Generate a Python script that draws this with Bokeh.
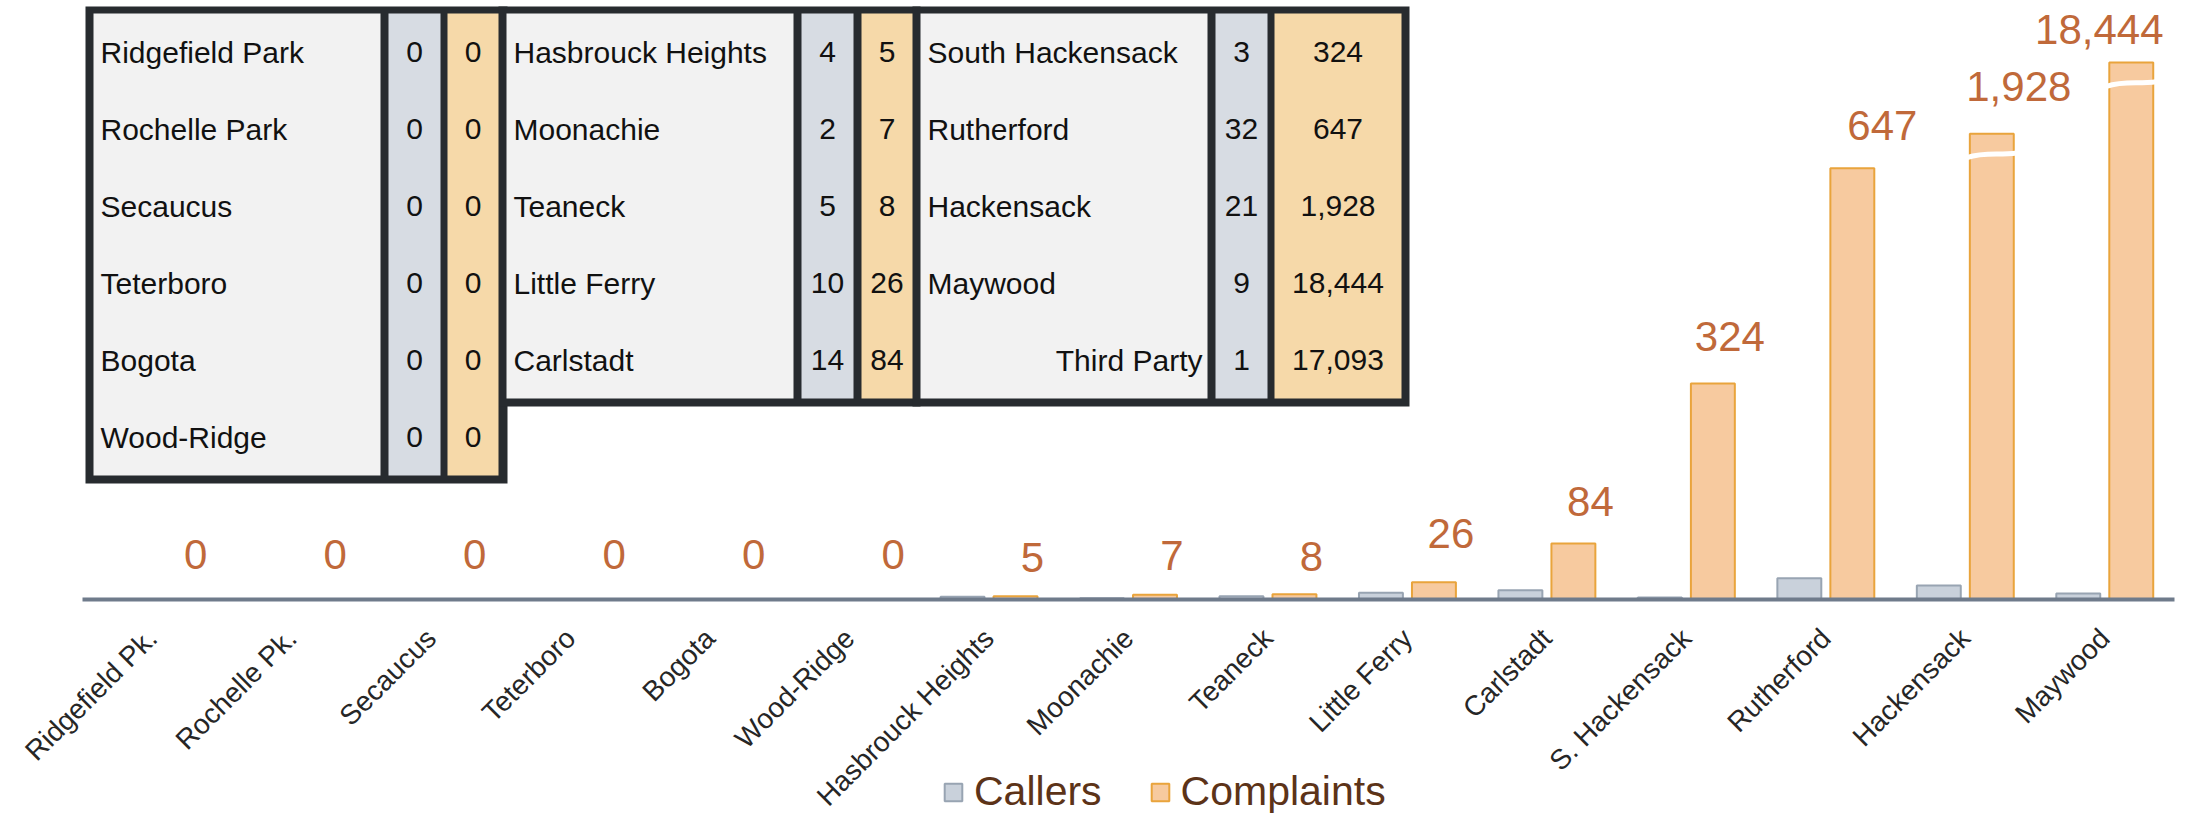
import math
from bokeh.plotting import figure
from bokeh.models import (ColumnDataSource, Range1d, Legend, LegendItem, FixedTicker)
from bokeh.transform import dodge
from bokeh.core.properties import value
from bokeh.embed import file_html
from bokeh.resources import INLINE

# ---------------- data ----------------
categories = ["Ridgefield Pk.", "Rochelle Pk.", "Secaucus", "Teterboro", "Bogota", "Wood-Ridge",
              "Hasbrouck Heights", "Moonachie", "Teaneck", "Little Ferry", "Carlstadt",
              "S. Hackensack", "Rutherford", "Hackensack", "Maywood"]
callers = [0, 0, 0, 0, 0, 0, 4, 2, 5, 10, 14, 3, 32, 21, 9]
complaints = [0, 0, 0, 0, 0, 0, 5, 7, 8, 26, 84, 324, 647, 1928, 18444]

table_names = ["Ridgefield Park", "Rochelle Park", "Secaucus", "Teterboro", "Bogota", "Wood-Ridge",
               "Hasbrouck Heights", "Moonachie", "Teaneck", "Little Ferry", "Carlstadt",
               "South Hackensack", "Rutherford", "Hackensack", "Maywood", "Third Party"]
table_callers = [0, 0, 0, 0, 0, 0, 4, 2, 5, 10, 14, 3, 32, 21, 9, 1]
table_complaints = [0, 0, 0, 0, 0, 0, 5, 7, 8, 26, 84, 324, 647, 1928, 18444, 17093]
table_sections = [6, 5, 5]

# ---------------- styles ----------------
FONT = "Liberation Sans"
ORANGE_TXT = "#C0693A"
CALLER_FILL, CALLER_LINE = "#C9D1DB", "#98A4B2"
COMPL_FILL, COMPL_LINE = "#F7CA9F", "#E9A43C"
AXIS_COLOR = "#6F7B8B"
BORDER = "#272B2F"
NAME_BG, CALLER_BG, COMPL_BG = "#F2F2F2", "#D7DCE3", "#F6D9A9"

# broken value axis: values above BREAK_AT are compressed (bars get a break mark)
BREAK_AT = 647
COMPRESS = 109


def shown(v):
    return v if v <= BREAK_AT else BREAK_AT + COMPRESS * math.log10(v / BREAK_AT)


W, H = 2188, 818
AX_L, AX_R = 82, 2174          # page x where the category band starts / ends
ZERO_PX = 599                  # page y of the value axis
UNITS_PER_PX = 1.5
n_cat = len(categories)
PX_PER_CAT = (AX_R - AX_L) / n_cat

p = figure(width=W, height=H, output_backend="svg", toolbar_location=None,
           x_range=Range1d(-AX_L / PX_PER_CAT, (W - AX_L) / PX_PER_CAT),
           y_range=Range1d((ZERO_PX - H) * UNITS_PER_PX, ZERO_PX * UNITS_PER_PX),
           y_axis_location=None,
           min_border_left=0, min_border_right=0, min_border_top=0, min_border_bottom=0,
           outline_line_color=None, background_fill_color="white", border_fill_color="white")
p.xgrid.visible = False
p.ygrid.visible = False


def tx(px):   # page pixel -> x coordinate (table layout)
    return (px - AX_L) / PX_PER_CAT


def ty(py):   # page pixel -> value coordinate (table layout)
    return (ZERO_PX - py) * UNITS_PER_PX


centers = [i + 0.5 for i in range(n_cat)]
label_dx = [17] * 12 + [30, 27, -32]
label_dy = [-45] * 6 + [-39, -39, -38, -49, -42, -47, -43, -47, -33]

src = ColumnDataSource(dict(
    x=centers,
    cat=categories,
    callers=callers,
    complaints=[shown(v) for v in complaints],
    label=[f"{v:,}" for v in complaints],
    dx=label_dx,
    dy=label_dy,
))

r_callers = p.vbar(x=dodge("x", -0.19), top="callers", width=0.315, source=src,
                   fill_color=CALLER_FILL, line_color=CALLER_LINE, line_width=2)
r_compl = p.vbar(x=dodge("x", 0.19), top="complaints", width=0.315, source=src,
                 fill_color=COMPL_FILL, line_color=COMPL_LINE, line_width=2)

# break marks on compressed bars
bx, byb = [], []
for xc, v in zip(centers, complaints):
    if v > BREAK_AT:
        bx.append(xc)
        byb.append(shown(v) - 32)
brk = ColumnDataSource(dict(x=bx, yl=[y - 4 for y in byb], yr=[y + 3 for y in byb],
                            c0=[y + 5 for y in byb], c1=[y - 1 for y in byb]))
p.bezier(x0=dodge("x", 0.19 - 0.178), y0="yl", x1=dodge("x", 0.19 + 0.178), y1="yr",
         cx0=dodge("x", 0.19 - 0.05), cy0="c0", cx1=dodge("x", 0.19 + 0.05), cy1="c1",
         source=brk, line_color="white", line_width=5)

p.text(x=dodge("x", 0.19), y="complaints", text="label", source=src,
       x_offset="dx", y_offset="dy", text_align="center", text_baseline="alphabetic",
       text_font=value(FONT), text_font_size="42px", text_color=ORANGE_TXT)

# value axis baseline spanning the categories
p.segment(x0=[0], y0=[0], x1=[n_cat], y1=[0], line_color=AXIS_COLOR, line_width=4)

# category axis, fixed at value 0
ax = p.xaxis[0]
ax.fixed_location = 0
ax.ticker = FixedTicker(ticks=centers)
ax.major_label_overrides = {c: name for c, name in zip(centers, categories)}
ax.axis_line_color = None
ax.major_tick_line_color = None
ax.minor_tick_line_color = None
ax.major_tick_out = 0
ax.major_tick_in = 0
ax.major_label_orientation = math.pi / 4
ax.major_label_standoff = 34
ax.major_label_text_font = FONT
ax.major_label_text_font_size = "28px"
ax.major_label_text_color = "#262626"

# ---------------- table ----------------
TOP = 6
ROW0 = 13
ROW_H = 77
sec_geom = [
    dict(outer=(85, 507), name=(93, 380), cal=(388, 440), com=(447, 498)),
    dict(outer=(498, 920), name=(506, 793), cal=(801, 853), com=(861, 912)),
    dict(outer=(912, 1409), name=(920, 1207), cal=(1215, 1267), com=(1274, 1401)),
]
dark = dict(l=[], r=[], t=[], b=[])
cells = dict(l=[], r=[], t=[], b=[], c=[])
txt = dict(x=[], y=[], t=[])
names_l, names_r = [], []
idx = 0
for s, n in enumerate(table_sections):
    g = sec_geom[s]
    bottom = ROW0 + n * ROW_H
    dark["l"].append(tx(g["outer"][0])); dark["r"].append(tx(g["outer"][1]))
    dark["t"].append(ty(TOP)); dark["b"].append(ty(bottom + 8))
    for key, col in (("name", NAME_BG), ("cal", CALLER_BG), ("com", COMPL_BG)):
        cells["l"].append(tx(g[key][0])); cells["r"].append(tx(g[key][1]))
        cells["t"].append(ty(ROW0)); cells["b"].append(ty(bottom)); cells["c"].append(col)
    for i in range(n):
        yc = ty(ROW0 + (i + 0.5) * ROW_H)
        nm = table_names[idx]
        if nm == "Third Party":
            names_r.append((tx(g["name"][1] - 5), yc, nm))
        else:
            names_l.append((tx(g["name"][0] + 7), yc, nm))
        txt["x"].append(tx((g["cal"][0] + g["cal"][1]) / 2)); txt["y"].append(yc)
        txt["t"].append(f"{table_callers[idx]:,}")
        txt["x"].append(tx((g["com"][0] + g["com"][1]) / 2)); txt["y"].append(yc)
        txt["t"].append(f"{table_complaints[idx]:,}")
        idx += 1

p.quad(left=dark["l"], right=dark["r"], top=dark["t"], bottom=dark["b"],
       fill_color=BORDER, line_color=None)
p.quad(left=cells["l"], right=cells["r"], top=cells["t"], bottom=cells["b"],
       fill_color=cells["c"], line_color=None)

tkw = dict(text_baseline="middle", text_font=value(FONT), text_font_size="30px",
           text_color="#111111")
p.text(x=[a[0] for a in names_l], y=[a[1] for a in names_l], text=[a[2] for a in names_l],
       text_align="left", **tkw)
p.text(x=[a[0] for a in names_r], y=[a[1] for a in names_r], text=[a[2] for a in names_r],
       text_align="right", **tkw)
p.text(x=txt["x"], y=txt["y"], text=txt["t"], text_align="center", **tkw)

# ---------------- legend ----------------
legend = Legend(items=[LegendItem(label="Callers", renderers=[r_callers]),
                       LegendItem(label="Complaints", renderers=[r_compl])],
                orientation="horizontal", location=(942, 3),
                glyph_width=22, glyph_height=22, label_standoff=10, spacing=47,
                padding=0, margin=0, border_line_alpha=0, background_fill_alpha=0,
                label_text_font=FONT, label_text_font_size="41px", label_text_color="#5C3318")
p.add_layout(legend)

open("out.html", "w").write(file_html(p, INLINE))
